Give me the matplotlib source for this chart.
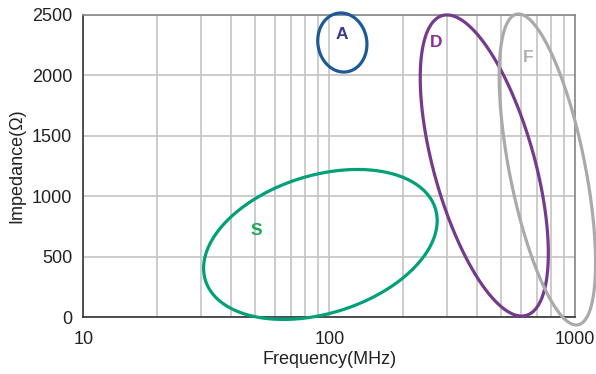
import matplotlib
matplotlib.use("Agg")
import matplotlib.pyplot as plt
import numpy as np

plt.rcParams['font.family'] = ['Liberation Sans', 'DejaVu Sans']

# ellipse data: centre freq (MHz), centre impedance (ohm),
# half width (decades), half height (ohm), shift of top point (decades)
names = ["A", "S", "D", "F"]
center_f = [113, 92, 427, 771]
center_z = [2270, 600, 1253, 1220]
half_w = [0.100, 0.475, 0.2605, 0.196]
half_h = [244, 620, 1245, 1286]
top_shift = [-0.006, 0.1506, -0.1518, -0.1176]
line_colors = ["#1b5a96", "#00a078", "#743a8c", "#aaaaaa"]

label_f = [112.8, 50.4, 272, 644]
label_z = [2340, 719, 2274, 2150]
label_colors = ["#3a3a8e", "#1aa850", "#8e2e96", "#b0b0b0"]

x_ticks = [10, 100, 1000]
y_ticks = [0, 500, 1000, 1500, 2000, 2500]

fig = plt.figure(figsize=(5.96, 3.74), dpi=100)
ax = fig.add_axes([0.140, 0.1524, 0.825, 0.8083])
ax.set_xscale("log")
ax.set_xlim(10, 1000)
ax.set_ylim(0, 2500)

t = np.linspace(0, 2 * np.pi, 400)
for i in range(len(names)):
    cx = np.log10(center_f[i])
    w = np.sqrt(half_w[i] ** 2 - top_shift[i] ** 2)
    lx = cx + top_shift[i] * np.sin(t) + w * np.cos(t)
    zy = center_z[i] + half_h[i] * np.sin(t)
    ax.fill(10 ** lx, zy, fill=False, edgecolor=line_colors[i], lw=2.3,
            clip_on=False, zorder=3)
    ax.text(label_f[i], label_z[i], names[i], color=label_colors[i],
            fontsize=12.5, fontweight="bold", ha="center", va="center", zorder=4)

ax.set_xticks(x_ticks)
ax.set_xticklabels([str(v) for v in x_ticks])
ax.set_yticks(y_ticks)
ax.xaxis.set_minor_formatter(matplotlib.ticker.NullFormatter())
ax.grid(True, which="both", axis="x", color="#c4c4c4", lw=1.2)
ax.grid(True, which="major", axis="y", color="#c4c4c4", lw=1.2)
ax.tick_params(which="both", length=0)
ax.tick_params(axis="x", pad=10, labelsize=13, colors="#222222")
ax.tick_params(axis="y", pad=8, labelsize=13, colors="#222222")
ax.set_axisbelow(True)

for s in ["top", "right"]:
    ax.spines[s].set_color("#888888")
    ax.spines[s].set_linewidth(1.2)
for s in ["left", "bottom"]:
    ax.spines[s].set_color("#333333")
    ax.spines[s].set_linewidth(1.2)

ax.set_xlabel("Frequency(MHz)", fontsize=13, color="#222222", labelpad=2)
ax.set_ylabel("Impedance(\u03a9)", fontsize=13, color="#222222", labelpad=5)

fig.savefig("out.png", dpi=100)
